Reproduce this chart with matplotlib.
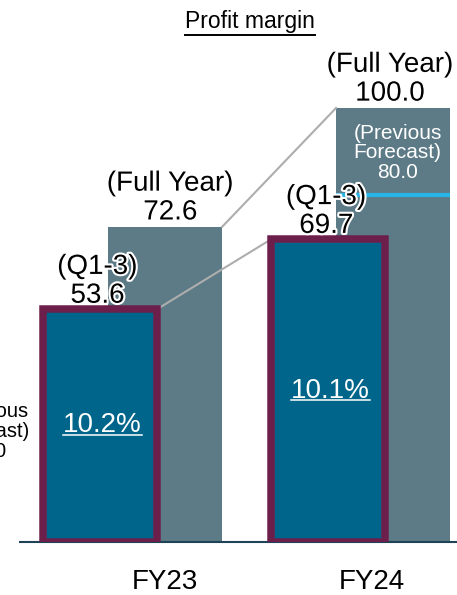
import matplotlib
matplotlib.use('Agg')
import matplotlib.pyplot as plt
import matplotlib.patheffects as pe
from matplotlib.lines import Line2D
import numpy as np

plt.rcParams['font.family'] = ['Liberation Sans', 'DejaVu Sans']

# data
years = ['FY23', 'FY24']
q13_values = [53.6, 69.7]
full_values = [72.6, 100.0]
margins = ['10.2%', '10.1%']
prev_forecast = 80.0
left_prev_label = '(Previous\nForecast)\n80.0'

fill_q13 = '#00658A'
edge_q13 = '#6D1F4C'
fill_full = '#5D7B86'
base_col = '#1F4257'
cyan = '#27B5E8'
conn_col = '#ADADAD'

W, H = 457, 595
fig = plt.figure(figsize=(W / 100, H / 100), dpi=100)
y0_px = 53.3
px_per_unit = 4.337
ax = fig.add_axes([0, y0_px / H, 1, 125 * px_per_unit / H])
ax.set_ylim(0, 125)
ax.set_xlim(-0.582, 1.424)
ax.axis('off')

x = np.arange(len(years))
w = 0.5
off = 0.143
halo = [pe.withStroke(linewidth=3, foreground='white')]

# full-year bars behind
ax.bar(x + off, full_values, w, color=fill_full, zorder=2)
# Q1-3 bars in front, thick border
ax.bar(x - off, q13_values, w, color=fill_q13, edgecolor=edge_q13, linewidth=5.4, zorder=5)

# baseline
ax.hlines(0, -0.499, 1.424, color=base_col, lw=1.5, zorder=4, clip_on=False)

# connector lines
ax.plot([x[0] - off + w / 2, x[1] - off - w / 2], [q13_values[0], q13_values[1]],
        color=conn_col, lw=1.5, zorder=3)
ax.plot([x[0] + off + w / 2, x[1] + off - w / 2], [full_values[0], full_values[1]],
        color=conn_col, lw=1.5, zorder=3)

# previous forecast line in FY24 bar
ax.hlines(prev_forecast, x[1] + off - w / 2, x[1] + off + w / 2, color=cyan, lw=3, zorder=3)
ax.text(x[1] + off + 0.02, 96.4, f'(Previous\nForecast)\n{prev_forecast:.1f}',
        ha='center', va='top', fontsize=15, color='white', linespacing=1.05, zorder=6)

# cut-off label on the left edge (partly outside the figure, as in the original)
ax.text(-0.64, 32.2, left_prev_label, ha='center', va='top', fontsize=14.5,
        color='black', linespacing=1.05)

# value labels above bars
q13_dx = [-0.011, -0.007]
full_dx = [0.022, -0.013]
for i in x:
    ax.text(i - off + q13_dx[i], q13_values[i] + 1.5, f'(Q1-3)\n{q13_values[i]:.1f}',
            ha='center', va='baseline', fontsize=20, color='black',
            path_effects=halo, zorder=7, linespacing=1.14)
    ax.text(i + off + full_dx[i], full_values[i] + 1.7, f'(Full Year)\n{full_values[i]:.1f}',
            ha='center', va='baseline', fontsize=20, color='black',
            path_effects=halo, zorder=7, linespacing=1.14)

# margin text inside Q1-3 bars
pct_texts = []
for i in x:
    t = ax.text(i - off + 0.01, q13_values[i] / 2, margins[i], ha='center', va='center',
                fontsize=20, color='white', zorder=7)
    pct_texts.append(t)

# year labels
label_dx = [0.14, 0.05]
for i in x:
    ax.text(i + label_dx[i], -9.2, years[i], ha='center', va='center', fontsize=20,
            color='black', clip_on=False)

title = fig.text(250 / W, 1 - 28 / H, 'Profit margin', ha='center', va='baseline',
                 fontsize=16.5, color='black')

# underlines
fig.canvas.draw()
r = fig.canvas.get_renderer()


def underline(t, dy, lw, color):
    bb = t.get_window_extent(r)
    yy = (bb.y0 + dy) / H
    fig.add_artist(Line2D([bb.x0 / W, bb.x1 / W], [yy, yy], color=color, lw=lw, zorder=10))


for t in pct_texts:
    underline(t, 3.5, 1.1, 'white')
underline(title, -1.5, 1.4, 'black')

fig.savefig('out.png', dpi=100)
